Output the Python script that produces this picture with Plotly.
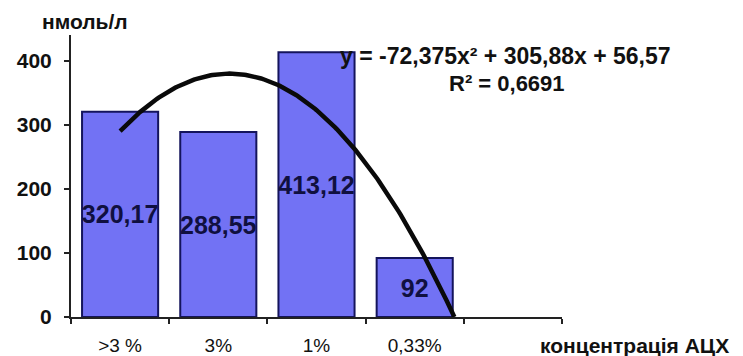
import numpy as np
import plotly.graph_objects as go

# Data
categories = [">3 %", "3%", "1%", "0,33%"]
values = [320.17, 288.55, 413.12, 92]
value_labels = ["320,17", "288,55", "413,12", "92"]
y_ticks = [0, 100, 200, 300, 400]

# Polynomial trendline (order 2) as reported on the chart
trend_coef = [-72.375, 305.88, 56.57]
trend_r2_label = "R² = 0,6691"
trend_eq_label = "y = -72,375x² + 305,88x + 56,57"

x_pos = list(range(1, len(categories) + 1))

# Trendline drawn from x=1 until it reaches zero
a, b, c = trend_coef
x_root = (-b - np.sqrt(b * b - 4 * a * c)) / (2 * a)
xs = np.linspace(1, x_root, 200)
ys = np.polyval(trend_coef, xs)

FONT = "Liberation Sans, Arial, sans-serif"
INK = "#111111"

fig = go.Figure()

fig.add_trace(go.Bar(
    x=x_pos,
    y=values,
    width=0.775,
    marker=dict(color="#7272F4", line=dict(color="#14145c", width=2)),
    text=value_labels,
    textposition="inside",
    insidetextanchor="middle",
    textangle=0,
    textfont=dict(family=FONT, size=25, color="#101040", weight="bold"),
    constraintext="none",
    cliponaxis=False,
    showlegend=False,
))

fig.add_trace(go.Scatter(
    x=xs,
    y=ys,
    mode="lines",
    line=dict(color="#0a0a0a", width=4.5),
    showlegend=False,
    hoverinfo="skip",
))

fig.update_layout(
    width=743,
    height=356,
    margin=dict(l=71, r=181, t=35, b=39, autoexpand=False),
    paper_bgcolor="white",
    plot_bgcolor="white",
    font=dict(family=FONT, color=INK),
    xaxis=dict(
        range=[0.5, 5.5],
        automargin=False,
        tickmode="array",
        tickvals=x_pos,
        ticktext=categories,
        ticks="",
        showgrid=False,
        zeroline=False,
        showline=True,
        linecolor="#222222",
        linewidth=2,
        tickfont=dict(size=19, color=INK),
        ticklabelstandoff=10,
        minor=dict(
            tickmode="array",
            tickvals=[0.5, 1.5, 2.5, 3.5, 4.5, 5.5],
            ticks="outside",
            ticklen=5,
            tickwidth=2,
            tickcolor="#222222",
            showgrid=False,
        ),
    ),
    yaxis=dict(
        range=[0, 440],
        automargin=False,
        tickmode="array",
        tickvals=y_ticks,
        ticktext=[str(v) for v in y_ticks],
        ticks="outside",
        ticklen=5,
        tickwidth=2,
        tickcolor="#222222",
        showgrid=False,
        zeroline=False,
        showline=True,
        linecolor="#222222",
        linewidth=2,
        tickfont=dict(size=21, color=INK, weight="bold"),
        ticklabelstandoff=8,
    ),
    annotations=[
        dict(text="нмоль/л", x=85, y=22, xref="paper", yref="paper",
             showarrow=False, font=dict(size=21, color=INK, weight="bold")),
        dict(text="концентрація АЦХ", x=634, y=345, xref="paper", yref="paper",
             showarrow=False, font=dict(size=21, color=INK, weight="bold")),
        dict(text=trend_eq_label, x=505, y=56, xref="paper", yref="paper",
             showarrow=False, font=dict(size=23, color=INK, weight="bold")),
        dict(text=trend_r2_label, x=507, y=83, xref="paper", yref="paper",
             showarrow=False, font=dict(size=22, color=INK, weight="bold")),
    ],
)

# Annotation positions above are given in pixels; convert to paper fractions
W, H = 743, 356
ml, mr, mt, mb = 71, 181, 35, 39
pw, ph = W - ml - mr, H - mt - mb
for ann in fig.layout.annotations:
    px, py = ann.x, ann.y
    ann.x = (px - ml) / pw
    ann.y = (H - mb - py) / ph
    ann.xanchor = "center"
    ann.yanchor = "middle"

fig.write_html("out.html")
